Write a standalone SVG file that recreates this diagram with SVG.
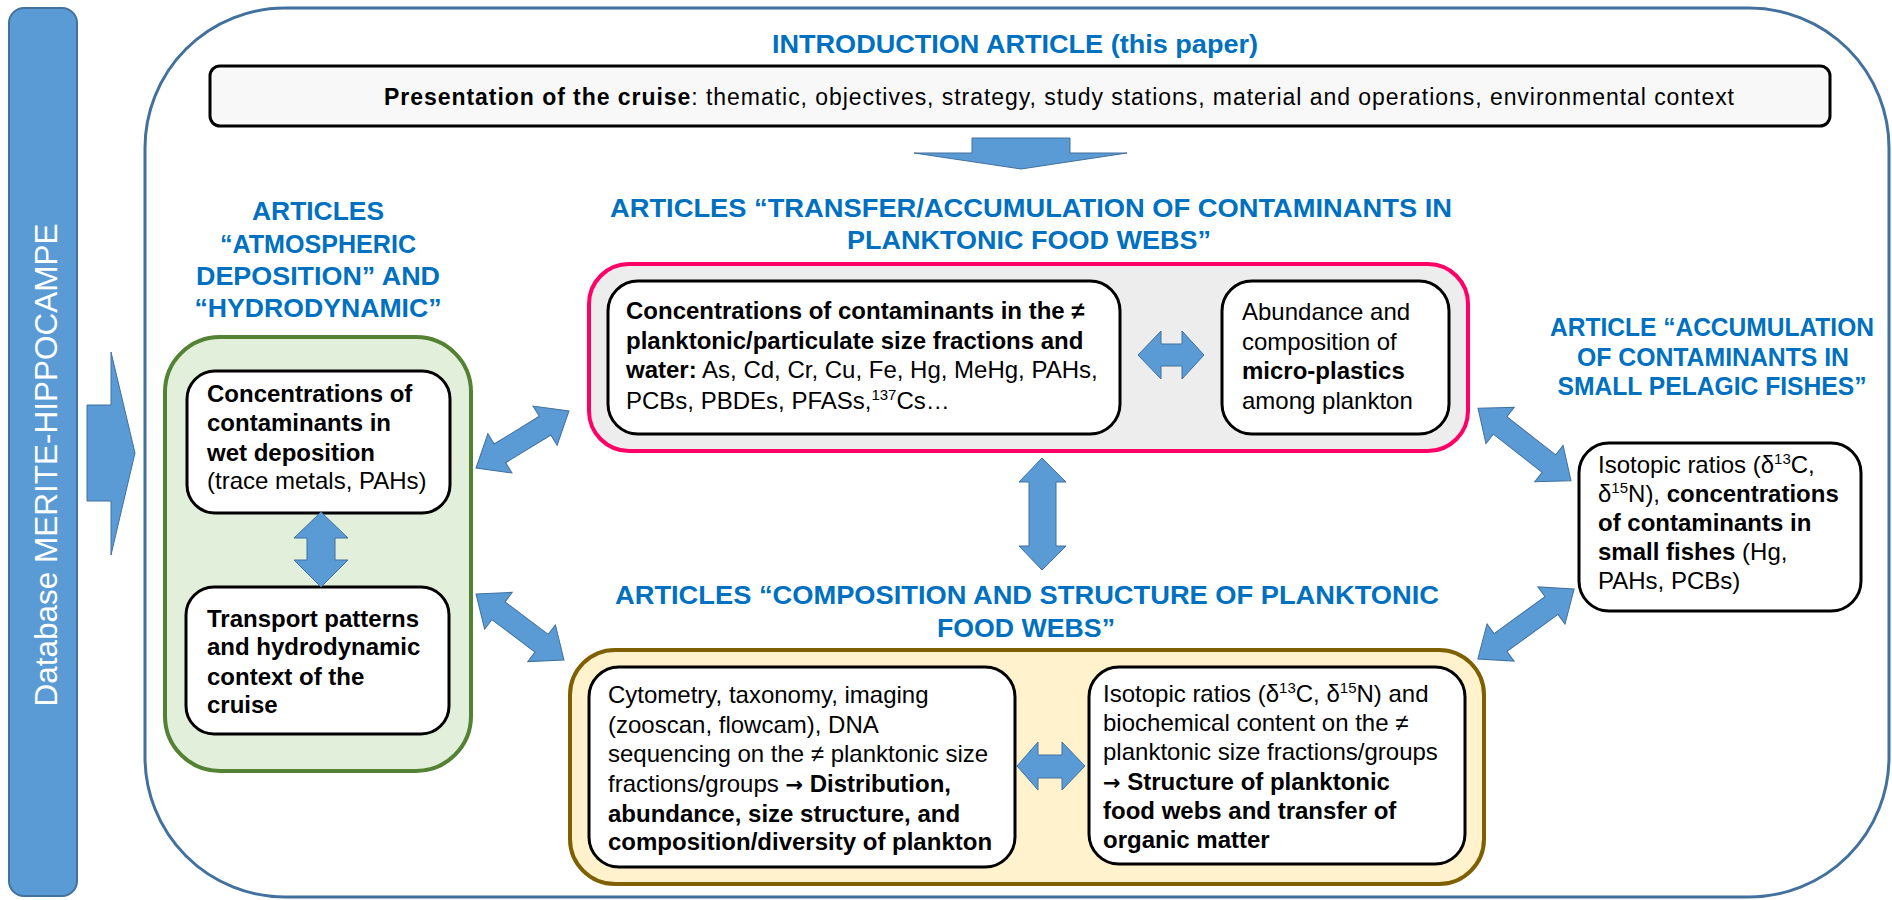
<svg xmlns="http://www.w3.org/2000/svg" width="1892" height="900" viewBox="0 0 1892 900">
<defs>
<style>
.t{font-family:"Liberation Sans",Arial,sans-serif;font-size:24px;fill:#000}
.b{font-weight:bold}
.ttl{font-family:"Liberation Sans",Arial,sans-serif;font-size:26px;font-weight:bold;fill:#0070C0}
.inner{fill:#fff;stroke:#000;stroke-width:3}
.arr{fill:#5B9BD5;stroke:#41719C;stroke-width:1}
.sup{font-size:15px}
.ar{font-family:"DejaVu Sans",sans-serif;font-weight:bold;font-size:21px}
</style>
</defs>
<rect width="1892" height="900" fill="#fff"/>

<g id="database">
<rect x="9" y="8" width="68" height="888" rx="15" fill="#5B9BD5" stroke="#41719C" stroke-width="2"/>
<text transform="translate(57,465) rotate(-90)" text-anchor="middle" textLength="483" lengthAdjust="spacingAndGlyphs" style="font-family:'Liberation Sans',Arial,sans-serif;font-size:31px;fill:#fff">Database MERITE-HIPPOCAMPE</text>
</g>

<g id="frame">
<rect x="145" y="8" width="1744" height="889" rx="140" ry="140" fill="#fff" stroke="#41719C" stroke-width="3"/>
</g>

<g id="intro">
<text class="ttl" x="1015" y="53" text-anchor="middle" textLength="486" lengthAdjust="spacingAndGlyphs">INTRODUCTION ARTICLE (this paper)</text>
<rect x="210" y="66" width="1620" height="60" rx="10" fill="#F8F8F8" stroke="#000" stroke-width="3"/>
<text class="t" x="384" y="105" textLength="1350" lengthAdjust="spacing" style="font-size:23px"><tspan class="b">Presentation of the cruise</tspan>: thematic, objectives, strategy, study stations, material and operations, environmental context</text>
</g>

<g id="atmo">
<text class="ttl" x="318" y="220" text-anchor="middle" textLength="132" lengthAdjust="spacingAndGlyphs">ARTICLES</text>
<text class="ttl" x="318" y="253" text-anchor="middle" textLength="196" lengthAdjust="spacingAndGlyphs">“ATMOSPHERIC</text>
<text class="ttl" x="318" y="285" text-anchor="middle" textLength="244" lengthAdjust="spacingAndGlyphs">DEPOSITION” AND</text>
<text class="ttl" x="318" y="317" text-anchor="middle" textLength="247" lengthAdjust="spacingAndGlyphs">“HYDRODYNAMIC”</text>
<rect x="165" y="337" width="306" height="434" rx="55" fill="#E2EFDA" stroke="#548235" stroke-width="4"/>
</g>

<g id="wetdep">
<rect class="inner" x="187" y="371" width="263" height="142" rx="28"/>
<text class="t" x="207" y="402"><tspan class="b">Concentrations of</tspan></text>
<text class="t" x="207" y="431"><tspan class="b">contaminants in</tspan></text>
<text class="t" x="207" y="461"><tspan class="b">wet deposition</tspan></text>
<text class="t" x="207" y="489">(trace metals, PAHs)</text>
</g>

<g id="transport">
<rect class="inner" x="186" y="587" width="263" height="147" rx="28"/>
<text class="t b" x="207" y="627">Transport patterns</text>
<text class="t b" x="207" y="655">and hydrodynamic</text>
<text class="t b" x="207" y="685">context of the</text>
<text class="t b" x="207" y="713">cruise</text>
</g>

<g id="transfer">
<text class="ttl" x="1031" y="217" text-anchor="middle" textLength="842" lengthAdjust="spacingAndGlyphs">ARTICLES “TRANSFER/ACCUMULATION OF CONTAMINANTS IN</text>
<text class="ttl" x="1029" y="249" text-anchor="middle" textLength="364" lengthAdjust="spacingAndGlyphs">PLANKTONIC FOOD WEBS”</text>
<rect x="589" y="264" width="879" height="187" rx="40" fill="#EDEDED" stroke="#FF0066" stroke-width="4"/>
</g>

<g id="concentrations">
<rect class="inner" x="608" y="281" width="512" height="153" rx="30"/>
<text class="t b" x="626" y="319">Concentrations of contaminants in the ≠</text>
<text class="t b" x="626" y="349">planktonic/particulate size fractions and</text>
<text class="t" x="626" y="378"><tspan class="b">water:</tspan> As, Cd, Cr, Cu, Fe, Hg, MeHg, PAHs,</text>
<text class="t" x="626" y="409">PCBs, PBDEs, PFASs,<tspan class="sup" dy="-9">137</tspan><tspan dy="9">Cs…</tspan></text>
</g>

<g id="microplastics">
<rect class="inner" x="1222" y="281" width="227" height="153" rx="30"/>
<text class="t" x="1242" y="320">Abundance and</text>
<text class="t" x="1242" y="350">composition of</text>
<text class="t b" x="1242" y="379">micro-plastics</text>
<text class="t" x="1242" y="409">among plankton</text>
</g>

<g id="composition">
<text class="ttl" x="1027" y="604" text-anchor="middle" textLength="824" lengthAdjust="spacingAndGlyphs">ARTICLES “COMPOSITION AND STRUCTURE OF PLANKTONIC</text>
<text class="ttl" x="1026" y="637" text-anchor="middle" textLength="178" lengthAdjust="spacingAndGlyphs">FOOD WEBS”</text>
<rect x="570" y="650" width="914" height="234" rx="45" fill="#FFF2CC" stroke="#7F6000" stroke-width="4"/>
</g>

<g id="cytometry">
<rect class="inner" x="589" y="667" width="426" height="200" rx="30"/>
<text class="t" x="608" y="703">Cytometry, taxonomy, imaging</text>
<text class="t" x="608" y="733">(zooscan, flowcam), DNA</text>
<text class="t" x="608" y="762">sequencing on the ≠ planktonic size</text>
<text class="t" x="608" y="792">fractions/groups <tspan class="ar">→</tspan> <tspan class="b">Distribution,</tspan></text>
<text class="t b" x="608" y="822">abundance, size structure, and</text>
<text class="t b" x="608" y="850">composition/diversity of plankton</text>
</g>

<g id="isotopic">
<rect class="inner" x="1089" y="667" width="376" height="197" rx="30"/>
<text class="t" x="1103" y="702">Isotopic ratios (δ<tspan class="sup" dy="-9">13</tspan><tspan dy="9">C, δ</tspan><tspan class="sup" dy="-9">15</tspan><tspan dy="9">N) and</tspan></text>
<text class="t" x="1103" y="731">biochemical content on the ≠</text>
<text class="t" x="1103" y="760">planktonic size fractions/groups</text>
<text class="t b" x="1103" y="790"><tspan class="ar">→</tspan> Structure of planktonic</text>
<text class="t b" x="1103" y="819">food webs and transfer of</text>
<text class="t b" x="1103" y="848">organic matter</text>
</g>

<g id="fishes">
<text class="ttl" x="1712" y="336" text-anchor="middle" textLength="324" lengthAdjust="spacingAndGlyphs">ARTICLE “ACCUMULATION</text>
<text class="ttl" x="1713" y="366" text-anchor="middle" textLength="272" lengthAdjust="spacingAndGlyphs">OF CONTAMINANTS IN</text>
<text class="ttl" x="1712" y="395" text-anchor="middle" textLength="309" lengthAdjust="spacingAndGlyphs">SMALL PELAGIC FISHES”</text>
<rect class="inner" x="1579" y="443" width="282" height="168" rx="30"/>
<text class="t" x="1598" y="473">Isotopic ratios (δ<tspan class="sup" dy="-9">13</tspan><tspan dy="9">C,</tspan></text>
<text class="t" x="1598" y="502">δ<tspan class="sup" dy="-9">15</tspan><tspan dy="9">N), </tspan><tspan class="b">concentrations</tspan></text>
<text class="t b" x="1598" y="531">of contaminants in</text>
<text class="t" x="1598" y="560"><tspan class="b">small fishes</tspan> (Hg,</text>
<text class="t" x="1598" y="589">PAHs, PCBs)</text>
</g>

<g id="connectors">
<polygon class="arr" points="87,405 111,405 111,352 135,453 111,555 111,501 87,501"/>
<polygon class="arr" points="972,138 1070,138 1070,153 1127,153 1021,169 914,153 972,153"/>
<polygon class="arr" points="321,512 348,538 335,538 335,560 348,560 321,587 294,560 307,560 307,538 294,538"/>
<polygon class="arr" points="1042,458 1066,482 1056,482 1056,546 1066,546 1042,570 1019,546 1029,546 1029,482 1019,482"/>
<polygon class="arr" points="1138,355 1161,331 1161,344 1182,344 1182,331 1204,355 1182,379 1182,366 1161,366 1161,379"/>
<polygon class="arr" points="1017,766 1038,742 1038,755 1062,755 1062,742 1085,766 1062,790 1062,778 1038,778 1038,790"/>
<g transform="translate(522.5,439.5) rotate(-31.5)"><polygon class="arr" points="-54.5,0 -26.5,-23 -26.5,-11 26.5,-11 26.5,-23 54.5,0 26.5,23 26.5,11 -26.5,11 -26.5,23"/></g>
<g transform="translate(520,627) rotate(36.9)"><polygon class="arr" points="-55,0 -27,-23 -27,-11 27,-11 27,-23 55,0 27,23 27,11 -27,11 -27,23"/></g>
<g transform="translate(1524.5,444.5) rotate(38)"><polygon class="arr" points="-59,0 -31,-23 -31,-11 31,-11 31,-23 59,0 31,23 31,11 -31,11 -31,23"/></g>
<g transform="translate(1526,624) rotate(-36)"><polygon class="arr" points="-59.5,0 -31.5,-23 -31.5,-11 31.5,-11 31.5,-23 59.5,0 31.5,23 31.5,11 -31.5,11 -31.5,23"/></g>
</g>
</svg>
